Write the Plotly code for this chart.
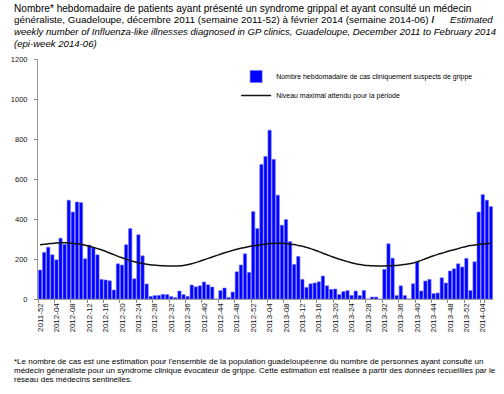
import plotly.graph_objects as go

# ---------------- data ----------------
years_weeks = [(2011, [52]), (2012, list(range(1, 53))), (2013, list(range(1, 53))), (2014, list(range(1, 7)))]
categories = [f"{y}-{w:02d}" for y, ws in years_weeks for w in ws]

cases = [145, 233, 259, 221, 196, 304, 273, 494, 435, 485, 482, 201, 269, 256, 221, 98, 95,
         91, 45, 176, 170, 271, 352, 101, 321, 216, 75, 13, 17, 18, 23, 22, 12, 7,
         40, 22, 13, 70, 61, 66, 85, 71, 60, 0, 42, 55, 8, 35, 136, 170, 226,
         133, 437, 352, 673, 713, 844,
         698, 519, 369, 397, 287, 173, 213, 98, 58, 76, 80, 86, 115, 66, 48, 50, 22, 37, 42, 18, 40, 17, 43, 0, 10, 10, 0, 148,
         276, 204, 17, 66, 17, 0, 76, 186, 40, 90, 98, 27, 30, 106, 80, 140, 151, 176, 160, 203, 42, 186, 435, 522, 494, 462]

threshold = [271, 274, 276, 278, 280, 281, 281, 280, 278, 276, 273, 269, 264, 258, 252, 246, 238,
             230, 222, 213, 206, 199, 192, 186, 181, 177, 174, 171, 169, 167, 166, 165, 165, 165,
             166, 168, 171, 176, 182, 189, 196, 203, 210, 217, 224, 231, 237, 243, 249, 254, 258, 262, 266,
             269, 272, 275, 277, 278, 279, 279, 278, 274, 272, 268, 264, 258, 252, 245, 237, 229, 221,
             213, 206, 199, 193, 187, 181, 176, 172, 169, 167, 166, 165, 165, 165, 166, 167, 168, 170,
             173, 176, 180, 186, 193, 201, 209, 216, 223, 229, 235, 241, 246, 252, 258, 263,
             267, 270, 273, 276, 277, 278]

tick_labels = ["2011-52", "2012-04", "2012-08", "2012-12", "2012-16", "2012-20", "2012-24", "2012-28",
               "2012-32", "2012-36", "2012-40", "2012-44", "2012-48", "2012-52", "2013-04", "2013-08",
               "2013-12", "2013-16", "2013-20", "2013-24", "2013-28", "2013-32", "2013-36", "2013-40",
               "2013-44", "2013-48", "2013-52", "2014-04"]

y_ticks = [0, 200, 400, 600, 800, 1000, 1200]

name_bars = "Nombre hebdomadaire de cas cliniquement suspects de grippe"
name_line = "Niveau maximal attendu pour la période"

# ---------------- layout helpers ----------------
W, H = 504, 394
ML, MR, MT, MB = 36, 11, 59, 95
PW, PH = W - ML - MR, H - MT - MB

def px(xp):
    return (xp - ML) / PW

def py(yp):
    return (H - MB - yp) / PH

FONT = "Liberation Sans, Arial, sans-serif"

fig = go.Figure()
fig.add_trace(go.Bar(x=categories, y=cases, name=name_bars,
                     marker=dict(color="#0000FF", line=dict(color="#6F6FFF", width=0.6))))
fig.add_trace(go.Scatter(x=categories, y=threshold, name=name_line, mode="lines",
                         line=dict(color="#111111", width=1.5, shape="spline")))

title_lines = [
    (8, 10.1, "Nombre* hebdomadaire de patients ayant présenté un syndrome grippal et ayant consulté un médecin"),
    (20, 9.9, "généraliste, Guadeloupe, décembre 2011 (semaine 2011-52) à février 2014 (semaine 2014-06) <b>/</b>"),
    (31.5, 9.6, "<i>weekly number of Influenza-like illnesses diagnosed in GP clinics, Guadeloupe, December 2011 to February 2014</i>"),
    (43, 9.6, "<i>(epi-week 2014-06)</i>"),
]
annotations = []
for yy, fs, txt in title_lines:
    annotations.append(dict(x=px(10), y=py(yy), xref="paper", yref="paper", text=txt,
                            showarrow=False, xanchor="left", yanchor="middle",
                            font=dict(family=FONT, size=fs, color="#000000")))
annotations.append(dict(x=px(495), y=py(20), xref="paper", yref="paper", text="<i>Estimated</i>",
                        showarrow=False, xanchor="right", yanchor="middle",
                        font=dict(family=FONT, size=9.6, color="#000000")))

foot_lines = [
    (361, "*Le nombre de cas est une estimation pour l'ensemble de la population guadeloupéenne du nombre de personnes ayant consulté un"),
    (370, "médecin généraliste pour un syndrome clinique évocateur de grippe. Cette estimation est réalisée à partir des données recueillies par le"),
    (379, "réseau des médecins sentinelles."),
]
for yy, txt in foot_lines:
    annotations.append(dict(x=px(10), y=py(yy), xref="paper", yref="paper", text=txt,
                            showarrow=False, xanchor="left", yanchor="middle",
                            font=dict(family=FONT, size=8, color="#000000")))

fig.update_layout(
    width=W, height=H,
    margin=dict(l=ML, r=MR, t=MT, b=MB, pad=0),
    paper_bgcolor="white", plot_bgcolor="white",
    bargap=0.2,
    showlegend=True,
    legend=dict(x=px(235), y=py(62), xanchor="left", yanchor="top",
                font=dict(family=FONT, size=7, color="#000000"),
                bgcolor="rgba(0,0,0,0)", tracegroupgap=0, itemwidth=30),
    annotations=annotations,
    font=dict(family=FONT, color="#000000"),
)
fig.update_xaxes(type="category", range=[-0.5, len(categories) - 0.5],
                 tickmode="array", tickvals=tick_labels, ticktext=tick_labels,
                 tickangle=-90, tickson="boundaries", ticks="outside", ticklen=3,
                 tickcolor="#888888", showline=True, linecolor="#999999", linewidth=1,
                 showgrid=False, tickfont=dict(family=FONT, size=8, color="#111111"))
fig.update_yaxes(range=[0, 1200], tickvals=y_ticks, ticks="outside", ticklen=3,
                 tickcolor="#888888", showline=True, linecolor="#999999", linewidth=1,
                 showgrid=False, zeroline=False, ticklabelstandoff=5,
                 tickfont=dict(family=FONT, size=7.5, color="#111111"))

fig.write_html("out.html", config={"displayModeBar": False},
               post_script="document.body.style.margin='0';document.body.style.overflow='hidden';")
